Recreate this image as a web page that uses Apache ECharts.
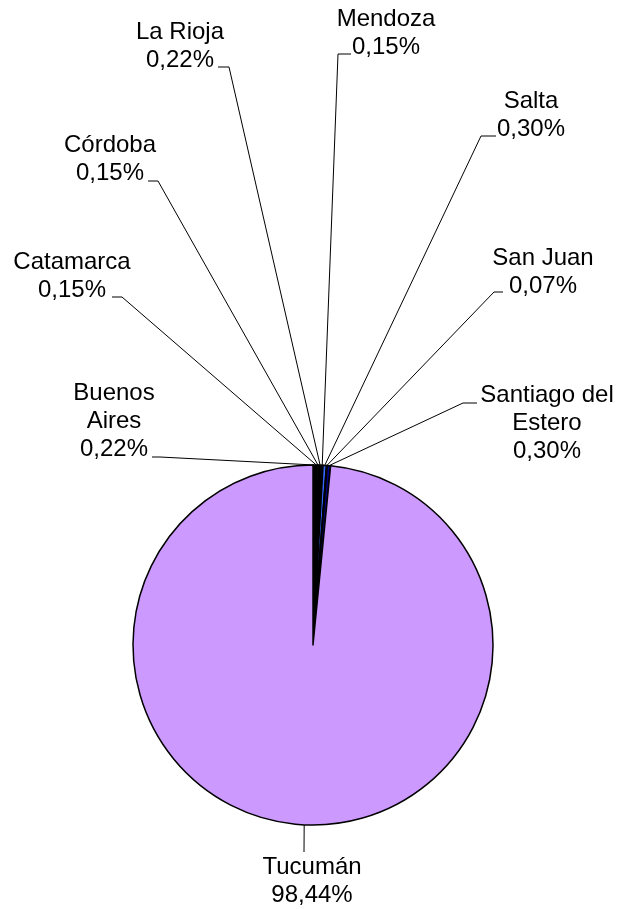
<!DOCTYPE html>
<html>
<head>
<meta charset="utf-8">
<script src="https://cdn.jsdelivr.net/npm/echarts@6/dist/echarts.min.js"></script>
<style>
html, body { margin: 0; padding: 0; background: #fff; }
#torta { width: 623px; height: 909px; }
</style>
</head>
<body>
<div id="torta"></div>
<script>
// datos del gráfico
var provincias = ['Buenos Aires', 'Catamarca', 'Córdoba', 'La Rioja', 'Mendoza', 'Salta', 'San Juan', 'Santiago del Estero', 'Tucumán'];
var nombresEtiqueta = ['Buenos\nAires', 'Catamarca', 'Córdoba', 'La Rioja', 'Mendoza', 'Salta', 'San Juan', 'Santiago del\nEstero', 'Tucumán'];
var porcentajes = [0.22, 0.15, 0.15, 0.22, 0.15, 0.30, 0.07, 0.30, 98.44];

var colores = ['#000000', '#000000', '#333300', '#000000', '#0000FF', '#3366FF', '#000000', '#000080', '#CC99FF'];

// ubicación de las etiquetas (arrastradas a mano en el original)
var centro = [313, 645];
var radio = 180;
var posEtiqueta = [[114, 421], [72, 276], [110, 159], [180, 46], [386, 33], [531, 115], [543, 272], [547, 423], [312, 881]];
// quiebre y final de cada línea guía
var posGuia = [
	[[160, 457], [152, 457]],
	[[122, 297], [112, 297]],
	[[158, 181], [148, 181]],
	[[229, 67], [218, 67]],
	[[338, 54], [351, 54]],
	[[481, 136], [496, 136]],
	[[494, 292], [503, 292]],
	[[463, 403], [477, 403]],
	[[304, 852], [304, 852]]
];

var chart = echarts.init(document.getElementById('torta'));

// punto medio del borde de cada porción
function bordePorcion(i) {
	var total = 0, acum = 0;
	for (var k = 0; k < porcentajes.length; k++) total += porcentajes[k];
	for (var j = 0; j < i; j++) acum += porcentajes[j];
	var ang = (90 - (acum + porcentajes[i] / 2) / total * 360) * Math.PI / 180;
	return [centro[0] + radio * Math.cos(ang), centro[1] - radio * Math.sin(ang)];
}

var datos = [];
for (var i = 0; i < provincias.length; i++) {
	datos.push({
		name: provincias[i],
		value: porcentajes[i],
		itemStyle: { color: colores[i] }
	});
}

var option = {
	backgroundColor: '#fff',
	animation: false,
	series: [{
		type: 'pie',
		center: centro,
		radius: radio,
		startAngle: 90,
		clockwise: true,
		avoidLabelOverlap: false,
		data: datos,
		itemStyle: {
			borderColor: '#000',
			borderWidth: 1.5
		},
		emphasis: { disabled: true },
		label: {
			show: true,
			position: 'outside',
			color: '#000',
			fontFamily: 'Arial, "Liberation Sans", sans-serif',
			fontSize: 24,
			lineHeight: 28,
			width: 200,
			overflow: 'none',
			align: 'center',
			formatter: function(p) {
				return nombresEtiqueta[p.dataIndex] + '\n' + p.value.toFixed(2).replace('.', ',') + '%';
			}
		},
		labelLine: {
			show: true,
			smooth: false,
			lineStyle: { color: '#000', width: 1 }
		},
		labelLayout: function(p) {
			var i = p.dataIndex;
			var g = posGuia[i];
			return {
				x: posEtiqueta[i][0],
				y: posEtiqueta[i][1],
				align: 'center',
				verticalAlign: 'middle',
				labelLinePoints: [bordePorcion(i), g[0], g[1]]
			};
		}
	}]
};

chart.setOption(option);
</script>
</body>
</html>
